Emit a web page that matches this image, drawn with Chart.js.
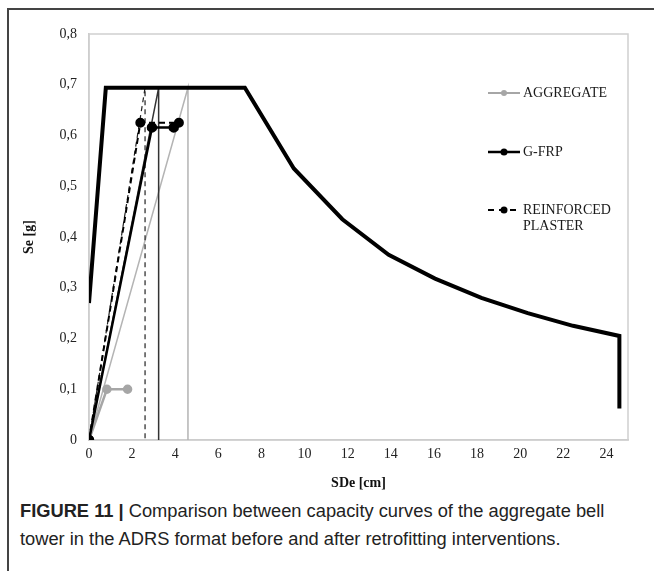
<!DOCTYPE html>
<html>
<head>
<meta charset="utf-8">
<script src="https://cdn.jsdelivr.net/npm/chart.js@4.4.0/dist/chart.umd.min.js"></script>
<style>
  html, body { margin: 0; padding: 0; background: #fff; }
  #wrap { position: relative; width: 654px; height: 571px; overflow: hidden; }
  #frame { position: absolute; left: 7px; top: 8px; width: 660px; height: 600px;
           border-left: 2px solid #444; border-top: 2px solid #444; }
  #box { position: absolute; left: 0; top: 0; width: 654px; height: 492px; }
  #caption { position: absolute; left: 20px; top: 497px; width: 634px;
             font-family: "Liberation Sans", Arial, sans-serif; font-size: 18.3px;
             line-height: 28px; color: #222; white-space: nowrap; }
  #caption b { font-weight: bold; }
</style>
</head>
<body>
<div id="wrap">
  <div id="frame"></div>
  <div id="box"><canvas id="adrs"></canvas></div>
  <div id="caption"><b>FIGURE 11 |</b> Comparison between capacity curves of the aggregate bell<br>tower in the ADRS format before and after retrofitting interventions.</div>
</div>
<script>
// demand spectrum (ADRS)
var spectrumX = [0, 0.78, 7.23, 9.5, 11.75, 13.9, 16.05, 18.2, 20.35, 22.45, 24.6, 24.6];
var spectrumY = [0.27, 0.694, 0.694, 0.535, 0.435, 0.365, 0.318, 0.28, 0.25, 0.225, 0.205, 0.062];

// capacity curves
var aggregateX = [0, 0.83, 1.79];
var aggregateY = [0, 0.1, 0.1];
var gfrpX = [0, 2.92, 3.93];
var gfrpY = [0, 0.616, 0.616];
var plasterX = [0, 2.38, 4.17];
var plasterY = [0, 0.625, 0.625];

// equivalent elastic lines + displacement demand
var aggregateBiX = [0, 4.59, 4.59];
var aggregateBiY = [0, 0.694, 0];
var gfrpBiX = [0, 3.23, 3.23];
var gfrpBiY = [0, 0.694, 0];
var plasterBiX = [0, 2.6, 2.6];
var plasterBiY = [0, 0.694, 0];

var xTicks = [0, 2, 4, 6, 8, 10, 12, 14, 16, 18, 20, 22, 24];
var yTicks = [0, 0.1, 0.2, 0.3, 0.4, 0.5, 0.6, 0.7, 0.8];

var legendNames = ['AGGREGATE', 'G-FRP', 'REINFORCED PLASTER'];

function pts(xs, ys) {
  return xs.map(function (x, i) { return { x: x, y: ys[i] }; });
}

var GREY = '#a6a6a6';
var serif = '"Liberation Serif", "Times New Roman", serif';

// legend drawn inside plot area, Excel style
var insideLegend = {
  id: 'insideLegend',
  afterDraw: function (chart) {
    var ctx = chart.ctx;
    var items = [
      { text: [legendNames[0]], y: 93, color: GREY, dash: [], w: 2, r: 3 },
      { text: [legendNames[1]], y: 152, color: '#000', dash: [], w: 2.5, r: 3.5 },
      { text: ['REINFORCED', 'PLASTER'], y: 210, color: '#000', dash: [6, 5], w: 2, r: 3.5 }
    ];
    ctx.save();
    items.forEach(function (it) {
      ctx.strokeStyle = it.color;
      ctx.fillStyle = it.color;
      ctx.lineWidth = it.w;
      ctx.setLineDash(it.dash);
      ctx.beginPath();
      ctx.moveTo(488, it.y);
      ctx.lineTo(520, it.y);
      ctx.stroke();
      ctx.setLineDash([]);
      ctx.beginPath();
      ctx.arc(504, it.y, it.r, 0, Math.PI * 2);
      ctx.fill();
      ctx.fillStyle = '#1a1a1a';
      ctx.font = '14px ' + serif;
      ctx.textBaseline = 'middle';
      ctx.textAlign = 'left';
      it.text.forEach(function (t, k) {
        ctx.fillText(t, 523, it.y + k * 16);
      });
    });
    ctx.restore();
  }
};

// dataset 0 is painted on top
new Chart(document.getElementById('adrs'), {
  type: 'scatter',
  data: {
    datasets: [
      { label: legendNames[1], data: pts(gfrpX, gfrpY), showLine: true,
        borderColor: '#000', backgroundColor: '#000', borderWidth: 2.5, pointRadius: 4 },
      { label: legendNames[2], data: pts(plasterX, plasterY), showLine: true,
        borderColor: '#000', backgroundColor: '#000', borderWidth: 2, borderDash: [6, 4], pointRadius: 4 },
      { label: 'spectrum', data: pts(spectrumX, spectrumY), showLine: true,
        borderColor: '#000', borderWidth: 4, pointRadius: 0, borderJoinStyle: 'miter' },
      { label: legendNames[0], data: pts(aggregateX, aggregateY), showLine: true,
        borderColor: GREY, backgroundColor: GREY, borderWidth: 2.5, pointRadius: 3.5 },
      { label: 'gfrp bilinear', data: pts(gfrpBiX, gfrpBiY), showLine: true,
        borderColor: '#333', borderWidth: 1.5, pointRadius: 0 },
      { label: 'plaster bilinear', data: pts(plasterBiX, plasterBiY), showLine: true,
        borderColor: '#222', borderWidth: 1.2, borderDash: [5, 4], pointRadius: 0 },
      { label: 'agg bilinear', data: pts(aggregateBiX, aggregateBiY), showLine: true,
        borderColor: '#b4b4b4', borderWidth: 1.5, pointRadius: 0 }
    ]
  },
  options: {
    responsive: true,
    maintainAspectRatio: false,
    animation: false,
    layout: { padding: { left: 9, top: 34, right: 26, bottom: 0 } },
    plugins: { legend: { display: false }, tooltip: { enabled: false } },
    scales: {
      x: {
        type: 'linear', min: 0, max: 25,
        afterBuildTicks: function (s) { s.ticks = xTicks.map(function (v) { return { value: v }; }); },
        afterFit: function (s) { s.height = 52; },
        grid: { display: false, drawTicks: false },
        border: { color: '#c8c8c8', width: 1.5 },
        ticks: { color: '#222', padding: 6, maxRotation: 0, autoSkip: false,
                 font: { family: serif, size: 14 } },
        title: { display: true, text: 'SDe [cm]', color: '#111', padding: { top: 4, bottom: 0 },
                 font: { family: serif, size: 14, weight: 'bold' } }
      },
      y: {
        type: 'linear', min: 0, max: 0.8,
        afterBuildTicks: function (s) { s.ticks = yTicks.map(function (v) { return { value: v }; }); },
        afterFit: function (s) { s.width = 80; },
        grid: { display: false, drawTicks: false },
        border: { color: '#c8c8c8', width: 1.5 },
        ticks: { color: '#222', padding: 12,
                 font: { family: serif, size: 14 },
                 callback: function (v) { return v === 0 ? '0' : v.toFixed(1).replace('.', ','); } },
        title: { display: true, text: 'Se [g]', color: '#111', padding: { top: 12, bottom: 0 },
                 font: { family: serif, size: 14, weight: 'bold' } }
      }
    }
  },
  plugins: [insideLegend, {
    id: 'plotFrame',
    beforeDatasetsDraw: function (chart) {
      var a = chart.chartArea, ctx = chart.ctx;
      ctx.save();
      ctx.strokeStyle = '#cfcfcf';
      ctx.lineWidth = 1.5;
      ctx.strokeRect(a.left, a.top, a.right - a.left, a.bottom - a.top);
      ctx.restore();
    }
  }]
});
</script>
</body>
</html>
